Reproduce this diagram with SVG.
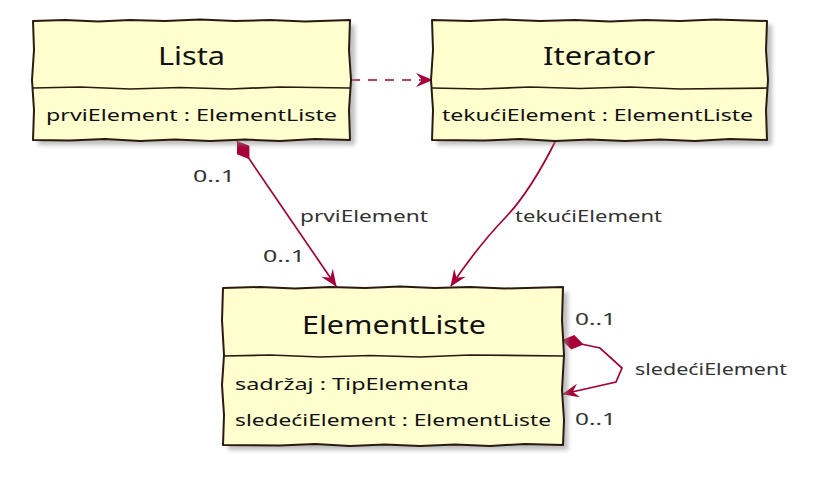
<svg xmlns="http://www.w3.org/2000/svg" width="825" height="489" viewBox="0 0 825 489">
<style>
.box{fill:#FEFECE;stroke:#2a1a10;stroke-width:2;stroke-linejoin:round}
.div{fill:none;stroke:#2a1a10;stroke-width:1.7}
.sh{fill:#8a8a8a;opacity:0.55;filter:url(#blur)}
.t{font-family:"Noto Sans","DejaVu Sans",sans-serif;fill:#111}
.title{font-size:26px}
.attr{font-size:17px}
.lbl{font-family:"Noto Sans","DejaVu Sans",sans-serif;font-size:17px;fill:#333}
.c{fill:none;stroke:#A80036;stroke-width:1.7}
</style>
<defs>
<filter id="blur" x="-10%" y="-10%" width="120%" height="120%"><feGaussianBlur stdDeviation="2.2"/></filter>
<marker id="arr" viewBox="0 0 17 14" refX="16" refY="7" markerWidth="17" markerHeight="14" markerUnits="userSpaceOnUse" orient="auto"><path d="M0,0 L17,7 L0,14 L6,7 Z" fill="#A80036"/></marker>
<marker id="dia" viewBox="0 0 22 15" refX="0" refY="7.5" markerWidth="22" markerHeight="15" markerUnits="userSpaceOnUse" orient="auto"><path d="M0,7.5 L11,0 L22,7.5 L11,15 Z" fill="#A80036"/></marker>
</defs>
<rect x="0" y="0" width="825" height="489" fill="#ffffff"/>

<g id="connectors">
<path class="c" d="M351,80 L432,80" stroke-dasharray="9,8" marker-end="url(#arr)"/>
<path class="c" d="M237,141 L336,286" marker-start="url(#dia)" marker-end="url(#arr)"/>
<path class="c" d="M556,140 Q530,192 505,218 Q478,246 451,286" marker-end="url(#arr)"/>
<path class="c" d="M562,340 L600,348 L622,368 L616,382 L563,394" marker-start="url(#dia)" marker-end="url(#arr)"/>
<text class="lbl" x="193" y="182" textLength="42" lengthAdjust="spacingAndGlyphs">0..1</text>
<text class="lbl" x="300" y="222" textLength="128" lengthAdjust="spacingAndGlyphs">prviElement</text>
<text class="lbl" x="263" y="262" textLength="42" lengthAdjust="spacingAndGlyphs">0..1</text>
<text class="lbl" x="515" y="222" textLength="147" lengthAdjust="spacingAndGlyphs">tekućiElement</text>
<text class="lbl" x="575" y="325" textLength="41" lengthAdjust="spacingAndGlyphs">0..1</text>
<text class="lbl" x="635" y="375" textLength="152" lengthAdjust="spacingAndGlyphs">sledećiElement</text>
<text class="lbl" x="575" y="425" textLength="41" lengthAdjust="spacingAndGlyphs">0..1</text>
</g>

<g id="Lista">
<rect class="sh" x="38" y="25" width="317" height="120"/>
<path class="box" d="M33,21 L65,20 L98,21.5 L130,20 L165,21 L200,19.5 L235,21 L270,20 L305,21.5 L350,20 L349,50 L351,80 L349,110 L350,140 L315,139 L280,141 L245,139.5 L210,141 L175,139.5 L140,141 L105,139 L70,140.5 L33,140 L34,110 L32,80 L34,50 Z"/>
<path class="div" d="M33,88 L80,87 L130,89 L180,87.5 L230,89 L280,87 L350,88"/>
<text class="t title" x="158" y="65" textLength="67" lengthAdjust="spacingAndGlyphs">Lista</text>
<text class="t attr" x="46" y="121" textLength="291" lengthAdjust="spacingAndGlyphs">prviElement : ElementListe</text>
</g>

<g id="Iterator">
<rect class="sh" x="437" y="25" width="335" height="120"/>
<path class="box" d="M432,20 L470,21 L505,19.5 L540,21 L575,20 L610,21.5 L645,20 L680,21 L715,19.5 L767,21 L766,50 L768,80 L766,110 L767,140 L730,139 L695,141 L660,139.5 L625,141 L590,139.5 L555,141 L520,139 L485,140.5 L432,140 L433,110 L431,80 L433,50 Z"/>
<path class="div" d="M432,88 L480,89 L530,87 L580,88.5 L630,87 L680,89 L767,88"/>
<text class="t title" x="543" y="65" textLength="112" lengthAdjust="spacingAndGlyphs">Iterator</text>
<text class="t attr" x="442" y="121" textLength="311" lengthAdjust="spacingAndGlyphs">tekućiElement : ElementListe</text>
</g>

<g id="ElementListe">
<rect class="sh" x="228" y="292" width="340" height="158"/>
<path class="box" d="M223,288 L260,287 L295,288.5 L330,287 L365,288 L400,286.5 L435,288 L470,287 L505,288.5 L563,287 L562,320 L564,355 L562,390 L564,420 L563,445 L525,444 L490,446 L455,444.5 L420,446 L385,444.5 L350,446 L315,444 L280,445.5 L223,445 L224,415 L222,385 L224,355 L222,320 Z"/>
<path class="div" d="M223,356 L270,355 L320,357 L370,355.5 L420,357 L470,355 L563,356"/>
<text class="t title" x="302" y="334" textLength="184" lengthAdjust="spacingAndGlyphs">ElementListe</text>
<text class="t attr" x="235" y="390" textLength="234" lengthAdjust="spacingAndGlyphs">sadržaj : TipElementa</text>
<text class="t attr" x="235" y="426" textLength="316" lengthAdjust="spacingAndGlyphs">sledećiElement : ElementListe</text>
</g>
</svg>
